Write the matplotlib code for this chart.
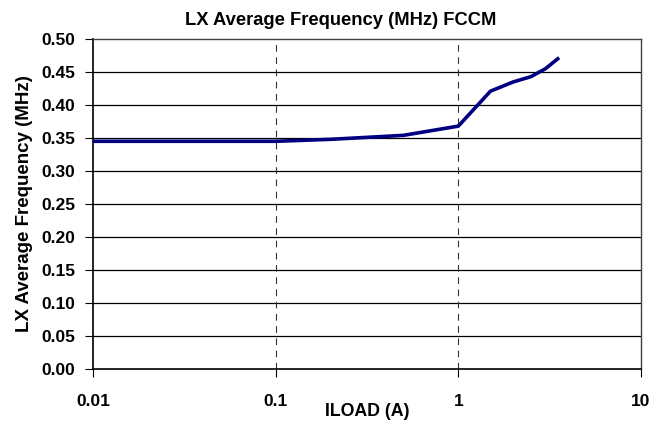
import numpy as np
import matplotlib
matplotlib.use("Agg")
from matplotlib import pyplot as plt
from matplotlib.ticker import FixedLocator, NullLocator

# load current (A) and switching frequency (MHz)
iload = [0.01, 0.02, 0.05, 0.1, 0.2, 0.5, 1.0, 1.5, 2.0, 2.5, 3.0, 3.5]
freq = [0.345, 0.345, 0.345, 0.345, 0.348, 0.354, 0.368, 0.421, 0.435, 0.443, 0.455, 0.470]

xticks = [0.01, 0.1, 1, 10]
xticklabels = ["0.01", "0.1", "1", "10"]
yticks = np.arange(0, 0.501, 0.05)

plt.rcParams['font.family'] = ['Liberation Sans', 'DejaVu Sans']
plt.rcParams['font.weight'] = 'bold'

fig = plt.figure(figsize=(6.56, 4.21), dpi=100)
ax = fig.add_axes([93/656, 1 - 369/421, (641-93)/656, (369-39)/421])

ax.plot(iload, freq, color='#000080', lw=2.6, solid_joinstyle='round', zorder=3)

ax.set_xscale('log')
ax.set_xlim(0.01, 10)
ax.set_ylim(0, 0.5)
ax.xaxis.set_major_locator(FixedLocator(xticks))
ax.xaxis.set_minor_locator(NullLocator())
ax.set_xticklabels(xticklabels)
ax.set_yticks(yticks)
ax.set_yticklabels(["%.2f" % v for v in yticks])

for y in yticks[1:-1]:
    ax.axhline(y, color='black', lw=0.9, zorder=1)
for x in [0.1, 1]:
    ax.axvline(x, color='#333333', lw=0.8, ls=(0, (6, 5)), zorder=1)

for s in ['left', 'bottom']:
    ax.spines[s].set_linewidth(1.2)
    ax.spines[s].set_color('black')
for s in ['top', 'right']:
    ax.spines[s].set_linewidth(1.0)
    ax.spines[s].set_color('#404040')

ax.tick_params(axis='both', direction='out', length=6, width=0.8, labelsize=12.5, pad=7)
ax.tick_params(axis='x', pad=12)
for lab in ax.get_xticklabels() + ax.get_yticklabels():
    lab.set_fontweight('bold')

ax.set_title('LX Average Frequency (MHz) FCCM', fontsize=13.2, fontweight='bold',
             x=(341-93)/548, pad=10)
ax.set_xlabel('ILOAD (A)', fontsize=12.8, fontweight='bold', labelpad=-4)
ax.set_ylabel('LX Average Frequency (MHz)', fontsize=13.5, fontweight='bold', labelpad=6)

fig.savefig('out.png', dpi=100)
